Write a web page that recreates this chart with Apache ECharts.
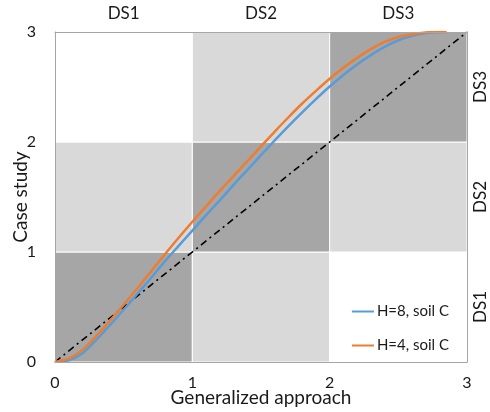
<!DOCTYPE html>
<html>
<head>
<meta charset="utf-8">
<script src="https://cdn.jsdelivr.net/npm/echarts@6/dist/echarts.min.js"></script>
<style>html,body{margin:0;padding:0;background:#fff;}</style>
</head>
<body>
<div id="main" style="width:490px;height:412px;"></div>
<script type="text/javascript">
// damage state labels (top = generalized approach, right = case study)
var dsLabels = ['DS1', 'DS2', 'DS3'];
// cell shading, rows bottom -> top, columns left -> right
var cellShade = [
    ['dark', 'light', 'white'],
    ['light', 'dark', 'light'],
    ['white', 'light', 'dark']
];
var shadeColor = { dark: '#a6a6a6', light: '#d9d9d9', white: '#ffffff' };

// H=8, soil C  [generalized, case study]
var h8 = [[0,0],[0.1,0.015],[0.2,0.08],[0.3,0.2],[0.4,0.335],[0.5,0.475],[0.6,0.62],[0.7,0.765],
    [0.8,0.915],[0.9,1.055],[1.0,1.195],[1.1,1.335],[1.2,1.47],[1.3,1.61],[1.4,1.745],[1.5,1.88],
    [1.6,2.015],[1.7,2.145],[1.8,2.27],[1.9,2.39],[2.0,2.505],[2.1,2.61],[2.2,2.705],[2.3,2.79],
    [2.4,2.865],[2.5,2.925],[2.6,2.965],[2.7,2.99],[2.8,3.0],[2.85,3.0]];
// H=4, soil C
var h4 = [[0,0],[0.1,0.03],[0.2,0.11],[0.3,0.235],[0.4,0.375],[0.5,0.52],[0.6,0.67],[0.7,0.825],
    [0.8,0.98],[0.9,1.13],[1.0,1.275],[1.1,1.415],[1.2,1.555],[1.3,1.69],[1.4,1.825],[1.5,1.96],
    [1.6,2.095],[1.7,2.225],[1.8,2.35],[1.9,2.465],[2.0,2.575],[2.1,2.675],[2.2,2.765],[2.3,2.845],
    [2.4,2.91],[2.5,2.955],[2.6,2.98],[2.7,2.995],[2.8,3.0],[2.85,3.0]];
// 1:1 reference line
var diag = [[0,0],[3,3]];

var chart = echarts.init(document.getElementById('main'));
var font = 'Lato';
var txt = '#1a1a1a';

var areas = [];
cellShade.forEach(function (row, r) {
    row.forEach(function (s, c) {
        areas.push([
            { xAxis: c, yAxis: r, itemStyle: { color: shadeColor[s] } },
            { xAxis: c + 1, yAxis: r + 1 }
        ]);
    });
});

var frame = { show: true, lineStyle: { color: '#a6a6a6', width: 1 } };

var option = {
    animation: false,
    backgroundColor: '#fff',
    textStyle: { fontFamily: font },
    grid: { left: 55, right: 23, top: 32, bottom: 50, outerBoundsMode: 'none', containLabel: false },
    legend: {
        orient: 'vertical',
        right: 36,
        bottom: 54,
        itemGap: 19,
        itemWidth: 22,
        itemHeight: 2,
        icon: 'rect',
        data: ['H=8, soil C', 'H=4, soil C'],
        textStyle: { fontFamily: font, fontSize: 15, color: txt, padding: [0, 0, 0, -2] }
    },
    xAxis: [{
        type: 'value', min: 0, max: 3, interval: 1,
        name: 'Generalized approach', nameLocation: 'middle', nameGap: 26, nameMoveOverlap: false,
        nameTextStyle: { fontFamily: font, fontSize: 19, color: txt },
        axisLine: frame, axisTick: { show: false }, splitLine: { show: false },
        axisLabel: { fontFamily: font, fontSize: 16, color: txt, margin: 13 },
        z: 10
    }, {
        type: 'category', position: 'top', data: dsLabels,
        axisLine: frame, axisTick: { show: false }, splitLine: { show: false },
        axisLabel: { fontFamily: font, fontSize: 17, color: txt, margin: 10 },
        z: 10
    }],
    yAxis: [{
        type: 'value', min: 0, max: 3, interval: 1,
        name: 'Case study', nameLocation: 'middle', nameGap: 25, nameMoveOverlap: false,
        nameTextStyle: { fontFamily: font, fontSize: 19, color: txt },
        axisLine: frame, axisTick: { show: false }, splitLine: { show: false },
        axisLabel: { fontFamily: font, fontSize: 16, color: txt, margin: 19 },
        z: 10
    }, {
        type: 'category', position: 'right', data: dsLabels,
        axisLine: frame, axisTick: { show: false }, splitLine: { show: false },
        axisLabel: { fontFamily: font, fontSize: 17, color: txt, rotate: 90, margin: 5 },
        z: 10
    }],
    series: [{
        name: 'cells', type: 'line', data: [], z: 1, silent: true,
        markArea: {
            silent: true,
            itemStyle: { borderColor: '#ffffff', borderWidth: 1 },
            data: areas
        }
    }, {
        name: '1:1', type: 'line', data: diag, z: 3, symbol: 'none',
        lineStyle: { color: '#000', width: 1.6, type: [7, 4, 2, 4] }
    }, {
        name: 'H=8, soil C', type: 'line', data: h8, z: 4, symbol: 'none', smooth: 0.25,
        itemStyle: { color: '#5b9bd5' },
        lineStyle: { color: '#5b9bd5', width: 2.5 }
    }, {
        name: 'H=4, soil C', type: 'line', data: h4, z: 5, symbol: 'none', smooth: 0.25,
        itemStyle: { color: '#ed7d31' },
        lineStyle: { color: '#ed7d31', width: 2.5 }
    }]
};
chart.setOption(option);
</script>
</body>
</html>
